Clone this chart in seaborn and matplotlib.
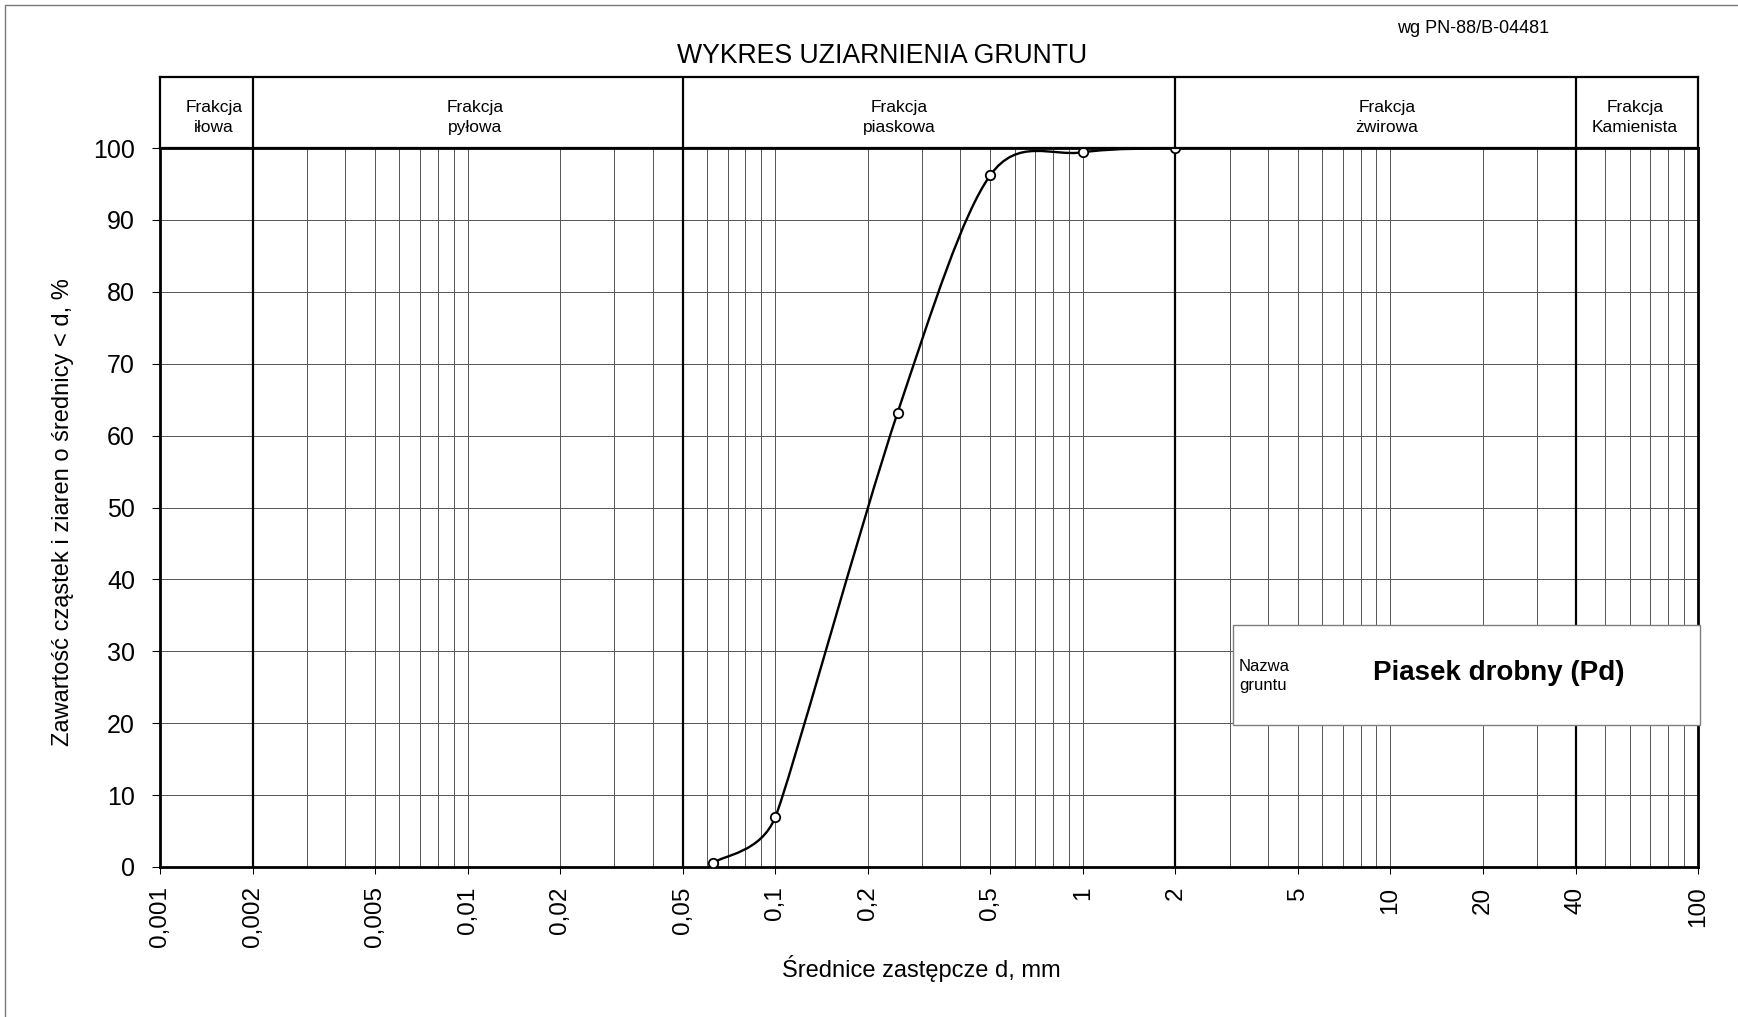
import numpy as np
import pandas as pd
import matplotlib
matplotlib.use("Agg")
import matplotlib.pyplot as plt
import seaborn as sns
from matplotlib.path import Path
from matplotlib.patches import PathPatch, Rectangle
from matplotlib.lines import Line2D
from matplotlib.ticker import FixedLocator, FixedFormatter, LogLocator, NullFormatter, NullLocator

# ---------------- data ----------------
diameters_mm = [0.063, 0.1, 0.25, 0.5, 1.0, 2.0]
passing_pct = [0.6, 6.9, 63.2, 96.2, 99.4, 100.0]

x_ticks = [0.001, 0.002, 0.005, 0.01, 0.02, 0.05, 0.1, 0.2, 0.5, 1, 2, 5, 10, 20, 40, 100]
x_tick_labels = ["0,001", "0,002", "0,005", "0,01", "0,02", "0,05", "0,1", "0,2",
                 "0,5", "1", "2", "5", "10", "20", "40", "100"]
y_ticks = list(range(0, 101, 10))

fraction_bounds = [0.002, 0.05, 2, 40]
fraction_names = ["Frakcja\niłowa", "Frakcja\npyłowa", "Frakcja\npiaskowa",
                  "Frakcja\nżwirowa", "Frakcja\nKamienista"]

title_text = "WYKRES UZIARNIENIA GRUNTU"
norm_text = "wg PN-88/B-04481"
xlabel_text = "Średnice zastępcze d, mm"
ylabel_text = "Zawartość cząstek i ziaren o średnicy < d, %"
soil_label = "Nazwa\ngruntu"
soil_name = "Piasek drobny (Pd)"

# ---------------- style ----------------
sns.set_theme(style="white")
plt.rcParams["font.family"] = ["Liberation Sans", "DejaVu Sans"]
plt.rcParams["text.color"] = "black"
plt.rcParams["axes.labelcolor"] = "black"
plt.rcParams["xtick.color"] = "black"
plt.rcParams["ytick.color"] = "black"

W, H = 1738, 1017
fig = plt.figure(figsize=(W / 100, H / 100), dpi=100, facecolor="white")


def px_rect(x0, y0, x1, y1):
    return [x0 / W, 1 - y1 / H, (x1 - x0) / W, (y1 - y0) / H]


ax = fig.add_axes(px_rect(160, 148, 1698, 867))
hx = fig.add_axes(px_rect(160, 77, 1698, 148))

# ---------------- markers (seaborn) ----------------
df = pd.DataFrame({"d": diameters_mm, "p": passing_pct})
ax.set_xscale("log")
sns.scatterplot(data=df, x="d", y="p", ax=ax, s=46, color="white",
                edgecolor="black", linewidth=1.3, zorder=6, legend=False)

ax.set_xlim(0.001, 100)
ax.set_ylim(0, 100)

# ticks
ax.xaxis.set_major_locator(FixedLocator(x_ticks))
ax.xaxis.set_major_formatter(FixedFormatter(x_tick_labels))
ax.xaxis.set_minor_locator(LogLocator(base=10, subs=np.arange(2, 10), numticks=30))
ax.xaxis.set_minor_formatter(NullFormatter())
ax.set_yticks(y_ticks)
ax.tick_params(axis="x", which="minor", length=0, bottom=False)
ax.tick_params(axis="x", which="major", bottom=True, direction="out", length=5,
               width=0.75, pad=9, labelsize=17.5, labelrotation=90)
ax.tick_params(axis="y", which="major", left=True, direction="out", length=6,
               width=0.75, pad=12, labelsize=18)

# grid
grid_kw = dict(color="#555555", linewidth=0.7)
ax.grid(True, which="both", axis="x", **grid_kw)
ax.grid(True, which="major", axis="y", **grid_kw)
ax.set_axisbelow(True)

for s in ax.spines.values():
    s.set_color("black")
    s.set_linewidth(2.0)
    s.set_visible(True)

for b in fraction_bounds:
    ax.axvline(b, color="black", linewidth=1.6, zorder=2.5)

# labels
ax.set_xlabel(xlabel_text, fontsize=17)
ax.xaxis.set_label_coords(0.495, -0.1217)
ax.set_ylabel(ylabel_text, fontsize=17)
ax.yaxis.set_label_coords(-0.0556, 0.4937)

# ---------------- smoothed curve (Excel-like Bezier in display space) ----------------
pts = ax.transData.transform(np.column_stack([diameters_mm, passing_pct]))
n = len(pts)
arm_in = np.zeros_like(pts)
arm_out = np.zeros_like(pts)
for i in range(n):
    if i == 0:
        arm_out[i] = (pts[1] - pts[0]) / 6.0
    elif i == n - 1:
        arm_in[i] = (pts[-1] - pts[-2]) / 6.0
    else:
        chord = pts[i + 1] - pts[i - 1]
        dc = np.hypot(*chord)
        dp = np.hypot(*(pts[i] - pts[i - 1]))
        dn = np.hypot(*(pts[i + 1] - pts[i]))
        f = min(1.0 / 6.0, 0.5 * min(dp, dn) / dc)
        arm_in[i] = chord * f
        arm_out[i] = chord * f

verts = [pts[0]]
codes = [Path.MOVETO]
for i in range(n - 1):
    verts += [pts[i] + arm_out[i], pts[i + 1] - arm_in[i + 1], pts[i + 1]]
    codes += [Path.CURVE4] * 3
data_verts = ax.transData.inverted().transform(np.array(verts))
curve = PathPatch(Path(data_verts, codes), transform=ax.transData,
                  facecolor="none", edgecolor="black", linewidth=1.7, zorder=5)
ax.add_patch(curve)

# ---------------- soil-name box ----------------
box = Rectangle((0.6977, 0.1975), 0.3036, 0.139, transform=ax.transAxes,
                facecolor="white", edgecolor="#7f7f7f", linewidth=1.0,
                zorder=3.5, clip_on=False)
ax.add_patch(box)
ax.text(0.7016, 0.266, soil_label, transform=ax.transAxes, ha="left", va="center",
        fontsize=12, linespacing=1.3, zorder=4)
ax.text(0.8706, 0.2698, soil_name, transform=ax.transAxes, ha="center", va="center",
        fontsize=20, fontweight="bold", zorder=4)

# ---------------- header band with fractions ----------------
hx.set_xscale("log")
hx.set_xlim(0.001, 100)
hx.set_ylim(0, 1)
hx.xaxis.set_major_locator(NullLocator())
hx.xaxis.set_minor_locator(NullLocator())
hx.set_yticks([])
hx.set_facecolor("white")
for s in hx.spines.values():
    s.set_color("black")
    s.set_linewidth(1.6)
    s.set_visible(True)
for b in fraction_bounds:
    hx.axvline(b, color="black", linewidth=1.6)

header_label_x = [0.0351, 0.2048, 0.4805, 0.7978, 0.959]
for xpos, name in zip(header_label_x, fraction_names):
    hx.text(xpos, 0.43, name, transform=hx.transAxes, ha="center", va="center",
            fontsize=12.5, linespacing=1.38)

# ---------------- figure texts ----------------
fig.text(882 / W, 1 - 63 / H, title_text, ha="center", va="baseline", fontsize=19.2)
fig.text(1473 / W, 1 - 33 / H, norm_text, ha="center", va="baseline", fontsize=13)

# outer frame (top and left edges visible)
fig.add_artist(Line2D([4.5 / W, 1.0], [1 - 4.5 / H, 1 - 4.5 / H], color="#7a7a7a",
                      linewidth=1.0, transform=fig.transFigure))
fig.add_artist(Line2D([4.5 / W, 4.5 / W], [0.0, 1 - 4.5 / H], color="#7a7a7a",
                      linewidth=1.0, transform=fig.transFigure))

fig.savefig("out.png", dpi=100, facecolor="white")
